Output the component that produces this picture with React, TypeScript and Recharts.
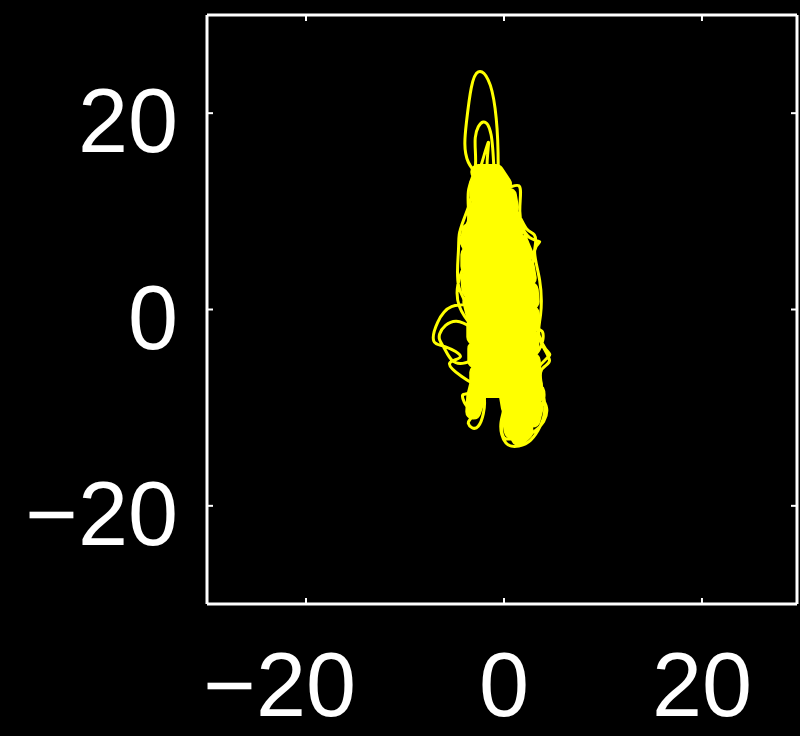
import { LineChart, Line, XAxis, YAxis } from "recharts";

// axis ticks
const xTicks = [-20, 0, 20];
const yTicks = [-20, 0, 20];

// trajectory (thin line)
const pathX = [
  0.5, 2.5, 1.2, -1.0, -3.6, -3.8, -3.3, -2.6, -1.6, -0.9,
  -0.6, -0.2, 1.5, 1.6, 2.4, 3.6, 3.1, 3.6, 3.7, 3.6,
  4.6, 3.7, 4.1, 3.7, 2.7, 1.5, 0.2, -0.3, 0.0, -1.8,
  -3.0, -3.6, -2.6, -2.0, -3.2, -4.3, -5.5, -4.4, -5.9, -7.1,
  -6.7, -5.3, -3.9, -4.6, -4.6, -4.4, -3.6, -3.6, -2.9, -2.9,
  -2.1, -1.3, -1.0, -0.3, 1.8, 2.8, 3.3, 3.9, 3.5, 2.2,
  3.9, 3.5, 2.3, 0.8, 0.5, -1.0, -3.3, -4.2, -3.5, -2.0,
  -1.5, -4.4, -6.0, -6.5, -4.8, -3.0, -4.5, -4.4, -3.8, -4.5,
  -3.4, -1.6, -1.6, 0.8, 2.3, 3.2, 2.7, 3.9, 4.5, 3.0,
  4.3, 3.1, 1.3, -0.2, 0.3, 0.0, 0.5,
];
const pathY = [
  2, 5, 10, 12.5, 15.0, 19.0, 22.6, 24.2, 23.4, 20.5,
  16.0, 12.5, 12.6, 10.0, 7.5, 6.9, 6.0, 3.0, -0.5, -3.0,
  -5.2, -6.4, -9.5, -11.8, -13.3, -13.9, -13.6, -11.5, -9.0, -8.0,
  -10.5, -11.6, -11.9, -9.0, -7.5, -6.8, -5.5, -4.8, -3.8, -3.2,
  -1.3, 0.3, 0.6, 2.5, 6.0, 8.1, 9.0, 12, 14.5, 17.5,
  19.1, 17.8, 14.0, 9.5, 7.2, 3.0, -1.5, -2.3, -4.2, -6,
  -8.0, -10.5, -12.7, -13.2, -11, -7.5, -8.4, -8.8, -10.0, -8.5,
  -5, -5.5, -4.0, -2.5, -1.2, -2.0, 0.3, 3.5, 5.5, 7.5,
  11, 17.0, 13.0, 10.5, 8.2, 7.0, 2.0, -3.5, -4.8, -7.0,
  -10.0, -12.4, -13.0, -12.5, -7, -2, 2,
];

// dense core of the tangle (drawn with a thick stroke)
const coreX = [
  -2.6, -0.8, 0.0, -2.7, -2.7, 0.5, 0.7, -2.7, -2.9, 0.9,
  1.2, -3.5, -3.6, 1.7, 2.2, -3.6, -3.6, 2.3, 2.5, -3.6,
  -3.5, 2.7, 2.8, -3.4, -3.1, 2.8, 2.8, -3.0, -3.0, 2.7,
  2.8, -2.9, -2.9, 2.9, 3.0, -2.7, -2.7, 3.1, -2.7, -3.0,
  -3.1, -2.4, 3.1, 3.2, 0.3, 0.5, 3.2, 2.9, 0.6, 0.8,
  2.2, 1.5,
];
const coreY = [
  14.0, 14.0, 12.8, 12.8, 11.6, 11.6, 10.4, 10.4, 9.2, 9.2,
  8.0, 8.0, 6.8, 6.8, 5.6, 5.6, 4.4, 4.4, 3.2, 3.2,
  2.0, 2.0, 0.8, 0.8, -0.4, -0.4, -1.6, -1.6, -2.8, -2.8,
  -4.0, -4.0, -5.2, -5.2, -6.4, -6.4, -7.6, -7.6, -7.6, -8.8,
  -10.4, -8.2, -8.2, -8.8, -8.8, -10.0, -10.0, -11.2, -11.2, -12.4,
  -12.4, -13.1,
];

const path = pathX.map((x, i) => ({ x, y: pathY[i] }));
const core = coreX.map((x, i) => ({ x, y: coreY[i] }));

const FONT = 90;
const FAMILY = "'Liberation Sans', Arial, Helvetica, sans-serif";
const YELLOW = "#ffff00";
const X_DOMAIN = [-30, 29.6];
const Y_DOMAIN = [-30, 30];

const fmt = (v: number) => (v < 0 ? "\u2212" + Math.abs(v) : String(v));

function BottomTick({ x, y, payload }: any) {
  const digits = String(Math.abs(payload.value)).length;
  return (
    <g>
      <line x1={x} y1={y} x2={x} y2={y - 6} stroke="#fff" strokeWidth={2} />
      <text x={x + digits * 0.278 * FONT} y={y + 112} textAnchor="end" fill="#fff" fontSize={FONT} fontFamily={FAMILY}>
        {fmt(payload.value)}
      </text>
    </g>
  );
}

function LeftTick({ x, y, payload }: any) {
  return (
    <g>
      <line x1={x} y1={y} x2={x + 6} y2={y} stroke="#fff" strokeWidth={2} />
      <text x={x - 29} y={y + 39} textAnchor="end" fill="#fff" fontSize={FONT} fontFamily={FAMILY}>
        {fmt(payload.value)}
      </text>
    </g>
  );
}

function TopTick({ x, y }: any) {
  return <line x1={x} y1={y} x2={x} y2={y + 6} stroke="#fff" strokeWidth={2} />;
}

function RightTick({ x, y }: any) {
  return <line x1={x} y1={y} x2={x - 6} y2={y} stroke="#fff" strokeWidth={2} />;
}

export default function App() {
  const axisLine = { stroke: "#fff", strokeWidth: 3 };
  return (
    <div style={{ position: "absolute", left: 0, top: 0, width: 800, height: 736, background: "#000" }}>
      <LineChart width={800} height={736} margin={{ top: 14, right: 2, bottom: 0, left: 0 }}>
        <XAxis
          dataKey="x"
          type="number"
          domain={X_DOMAIN}
          allowDataOverflow
          ticks={xTicks}
          interval={0}
          height={132}
          tickSize={0}
          tickMargin={0}
          axisLine={axisLine}
          tick={BottomTick}
        />
        <XAxis
          xAxisId="top"
          orientation="top"
          dataKey="x"
          type="number"
          domain={X_DOMAIN}
          allowDataOverflow
          ticks={xTicks}
          interval={0}
          height={1}
          tickSize={0}
          tickMargin={0}
          axisLine={axisLine}
          tick={TopTick}
        />
        <YAxis
          type="number"
          domain={Y_DOMAIN}
          allowDataOverflow
          ticks={yTicks}
          interval={0}
          width={207}
          tickSize={0}
          tickMargin={0}
          axisLine={axisLine}
          tick={LeftTick}
        />
        <YAxis
          yAxisId="right"
          orientation="right"
          type="number"
          domain={Y_DOMAIN}
          allowDataOverflow
          ticks={yTicks}
          interval={0}
          width={1}
          tickSize={0}
          tickMargin={0}
          axisLine={axisLine}
          tick={RightTick}
        />
        {/* invisible series so the top/right box axes get drawn */}
        <Line
          xAxisId="top"
          yAxisId="right"
          data={core}
          dataKey="y"
          stroke="none"
          dot={false}
          activeDot={false}
          isAnimationActive={false}
        />
        <Line
          data={core}
          dataKey="y"
          type="linear"
          stroke={YELLOW}
          strokeWidth={16}
          strokeLinejoin="round"
          strokeLinecap="round"
          dot={false}
          isAnimationActive={false}
        />
        <Line
          data={path}
          dataKey="y"
          type="natural"
          stroke={YELLOW}
          strokeWidth={3}
          strokeLinejoin="round"
          dot={false}
          isAnimationActive={false}
        />
      </LineChart>
    </div>
  );
}
